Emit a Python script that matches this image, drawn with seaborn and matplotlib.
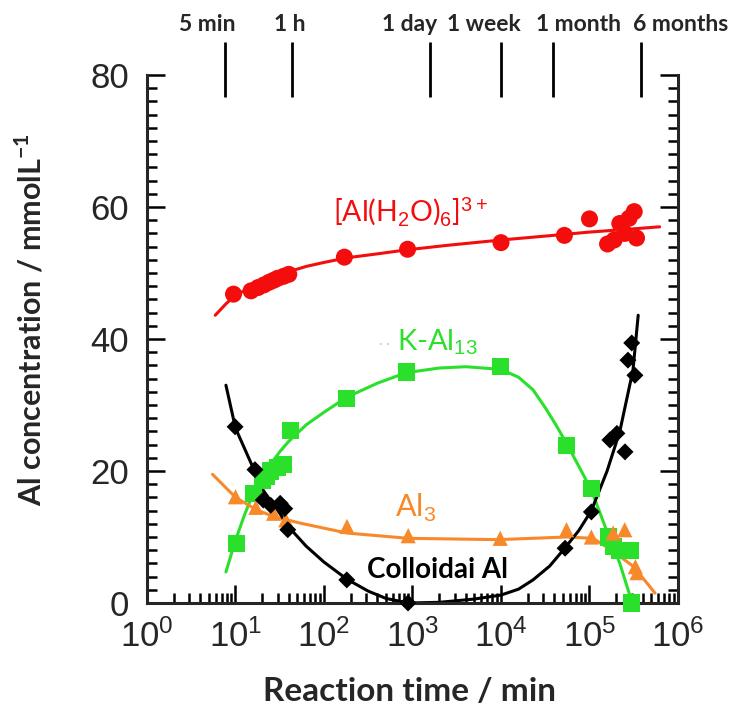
import matplotlib
matplotlib.use("Agg")
import matplotlib.pyplot as plt
import numpy as np
import pandas as pd
import seaborn as sns
from matplotlib.ticker import MultipleLocator, LogLocator, NullFormatter

# measured points (time in min, concentration in mmol/L)
hexa_t = [9.5, 15, 18, 21, 24, 27, 30, 35, 40, 170, 880, 10000, 52000,
          100000, 160000, 190000, 220000, 250000, 280000, 320000, 340000]
hexa_y = [46.8, 47.3, 47.8, 48.2, 48.6, 48.9, 49.2, 49.5, 49.8, 52.4, 53.6,
          54.6, 55.7, 58.2, 54.4, 55.0, 57.5, 56.0, 58.3, 59.3, 55.3]

kal13_t = [10.3, 15.9, 20, 22.5, 25, 30, 35, 41.4, 181, 860, 9800, 55000,
           105000, 162000, 185000, 220000, 288000, 300000]
kal13_y = [9.0, 16.6, 18.5, 19.1, 20.0, 20.5, 21.0, 26.2, 31.0, 35.0, 35.8,
           23.9, 17.4, 10.0, 8.5, 8.0, 8.0, 0.0]

al3_t = [10, 17, 27, 37, 182, 895, 9800, 55000, 105000, 185000, 250000,
         330000, 345000]
al3_y = [16.1, 14.5, 13.6, 12.6, 11.6, 10.2, 9.8, 11.1, 10.0, 10.6, 11.1,
         5.5, 4.6]

coll_t = [9.9, 16.6, 20.6, 25, 32, 36, 39, 181, 890, 53000, 105000, 170000,
          204000, 252000, 272000, 300000, 326000]
coll_y = [26.7, 20.2, 15.6, 14.8, 15.1, 14.3, 11.1, 3.5, 0.0, 8.3, 13.8,
          24.7, 25.7, 22.9, 36.8, 39.4, 34.5]

# fitted guide curves
hexa_fit_t = [5.9, 7.9, 10, 16, 25, 40, 63, 100, 180, 400, 850, 2500, 10000,
              32000, 100000, 320000, 620000]
hexa_fit_y = [43.6, 45.4, 46.6, 48.1, 49.3, 50.2, 51.0, 51.6, 52.3, 52.9,
              53.5, 54.2, 55.0, 55.6, 56.2, 56.7, 57.0]

kal13_fit_t = [7.8, 10, 12.6, 15.8, 22.4, 31.6, 40, 63, 100, 182, 400, 850,
               2000, 4000, 10000, 15800, 23000, 31600, 41700, 55000, 79400,
               105000, 155000, 220000, 288000, 302000]
kal13_fit_y = [4.7, 9.5, 13.3, 16.6, 20.2, 22.9, 24.5, 27.0, 28.9, 31.2,
               33.3, 34.9, 35.6, 35.8, 35.4, 34.2, 32.3, 29.6, 27.0, 24.2,
               20.2, 17.1, 11.1, 6.0, 1.0, 0.0]

al3_fit_t = [5.5, 10, 17.4, 27, 54, 182, 890, 9300, 55000, 110000, 155000,
             224000, 316000, 550000]
al3_fit_y = [19.5, 16.0, 14.1, 13.1, 12.1, 10.6, 9.8, 9.6, 10.0, 9.8, 8.5,
             7.0, 5.5, 1.5]

coll_fit_t = [7.8, 10, 15.8, 20, 31.6, 40, 63, 100, 182, 316, 500, 890, 2000,
              5000, 10000, 15800, 23000, 35500, 52500, 75900, 105000, 158000,
              220000, 310000, 355000]
coll_fit_y = [33.0, 26.5, 20.5, 17.3, 13.6, 11.5, 8.6, 6.2, 3.6, 1.8, 0.7,
              0.0, 0.1, 0.6, 1.2, 2.1, 3.5, 5.6, 8.3, 11.0, 14.0, 20.0, 26.0,
              35.3, 43.6]

# time markers along the top
mark_t = [7.6, 43.5, 1580, 10000, 38700, 382000]
mark_labels = ["5 min", "1 h", "1 day", "1 week", "1 month", "6 months"]
mark_label_t = [4.8, 41, 935, 6430, 76000, 1080000]

xticks = [1, 10, 100, 1000, 10000, 100000, 1000000]
xticklabels = ["$10^{0}$", "$10^{1}$", "$10^{2}$", "$10^{3}$", "$10^{4}$",
               "$10^{5}$", "$10^{6}$"]

RED = "#f40d0d"
GREEN = "#2be02b"
ORANGE = "#f8892a"
BLACK = "black"

sns.set_style("ticks")
plt.rcParams["font.family"] = ["Lato", "DejaVu Sans"]
plt.rcParams["mathtext.fontset"] = "custom"
plt.rcParams["mathtext.rm"] = "Liberation Sans"
plt.rcParams["mathtext.it"] = "Liberation Sans:italic"
plt.rcParams["mathtext.bf"] = "Lato:bold"

fig = plt.figure(figsize=(7.36, 7.11), dpi=100)
ax = fig.add_axes([0.1997, 0.1519, 0.7215, 0.7426])
ax.set_xscale("log")

curves = [(hexa_fit_t, hexa_fit_y, RED), (kal13_fit_t, kal13_fit_y, GREEN),
          (al3_fit_t, al3_fit_y, ORANGE), (coll_fit_t, coll_fit_y, BLACK)]
for t, y, c in curves:
    sns.lineplot(x=t, y=y, color=c, lw=2.2, estimator=None, sort=False,
                 ax=ax, zorder=2, clip_on=False)

points = [(hexa_t, hexa_y, RED, "o", 150), (kal13_t, kal13_y, GREEN, "s", 150),
          (al3_t, al3_y, ORANGE, "^", 120), (coll_t, coll_y, BLACK, "D", 75)]
for t, y, c, m, s in points:
    sns.scatterplot(x=t, y=y, color=c, marker=m, s=s, edgecolor="none",
                    ax=ax, zorder=3, clip_on=False)

ax.set_xlim(1, 1e6)
ax.set_ylim(0, 80)
ax.set_xticks(xticks)
ax.set_xticklabels(xticklabels)
ax.xaxis.set_minor_locator(LogLocator(base=10, subs=np.arange(2, 10),
                                      numticks=20))
ax.xaxis.set_minor_formatter(NullFormatter())
ax.yaxis.set_major_locator(MultipleLocator(20))
ax.yaxis.set_minor_locator(MultipleLocator(2))

ax.tick_params(which="both", direction="in", top=False, right=True,
               width=1.8, color="black")
ax.tick_params(which="major", length=13, labelsize=25)
ax.tick_params(axis="x", which="major", pad=11)
ax.tick_params(axis="y", which="major", pad=13)
ax.tick_params(which="minor", length=7)
for lab in ax.get_yticklabels():
    lab.set_fontfamily("Liberation Sans")
ax.spines["top"].set_visible(False)
for side in ["left", "right", "bottom"]:
    ax.spines[side].set_linewidth(2.2)

ax.set_xlabel("Reaction time / min", fontsize=24, fontweight="bold")
ax.set_ylabel(r"Al concentration / mmolL$^{\mathbf{-1}}$", fontsize=22,
              fontweight="bold")
ax.xaxis.set_label_coords(0.495, -0.14)
ax.yaxis.set_label_coords(-0.19, 0.536)

# top time markers
ax.vlines(mark_t, 76.7, 85.0, colors="black", lw=2, clip_on=False)
for lt, lab in zip(mark_label_t, mark_labels):
    ax.text(lt, 87.6, lab, ha="center", va="center", fontsize=16.5,
            fontweight="bold", clip_on=False)

ax.text(935, 59.2, r"[Al(H$_2$O)$_6$]$^{3+}$", color=RED, fontsize=20.5,
        ha="center", va="center")
ax.text(1900, 39.5, r"K-Al$_{13}$", color=GREEN, fontsize=21,
        ha="center", va="center")
ax.text(480, 39.3, "· ·", color="#9be89b", fontsize=10,
        ha="center", va="center")
ax.text(1070, 14.4, r"Al$_3$", color=ORANGE, fontsize=22,
        ha="center", va="center")
ax.text(1900, 5.0, "Colloidai Al", color=BLACK, fontsize=20,
        fontweight="bold", ha="center", va="center")

fig.savefig("out.png", dpi=100)
